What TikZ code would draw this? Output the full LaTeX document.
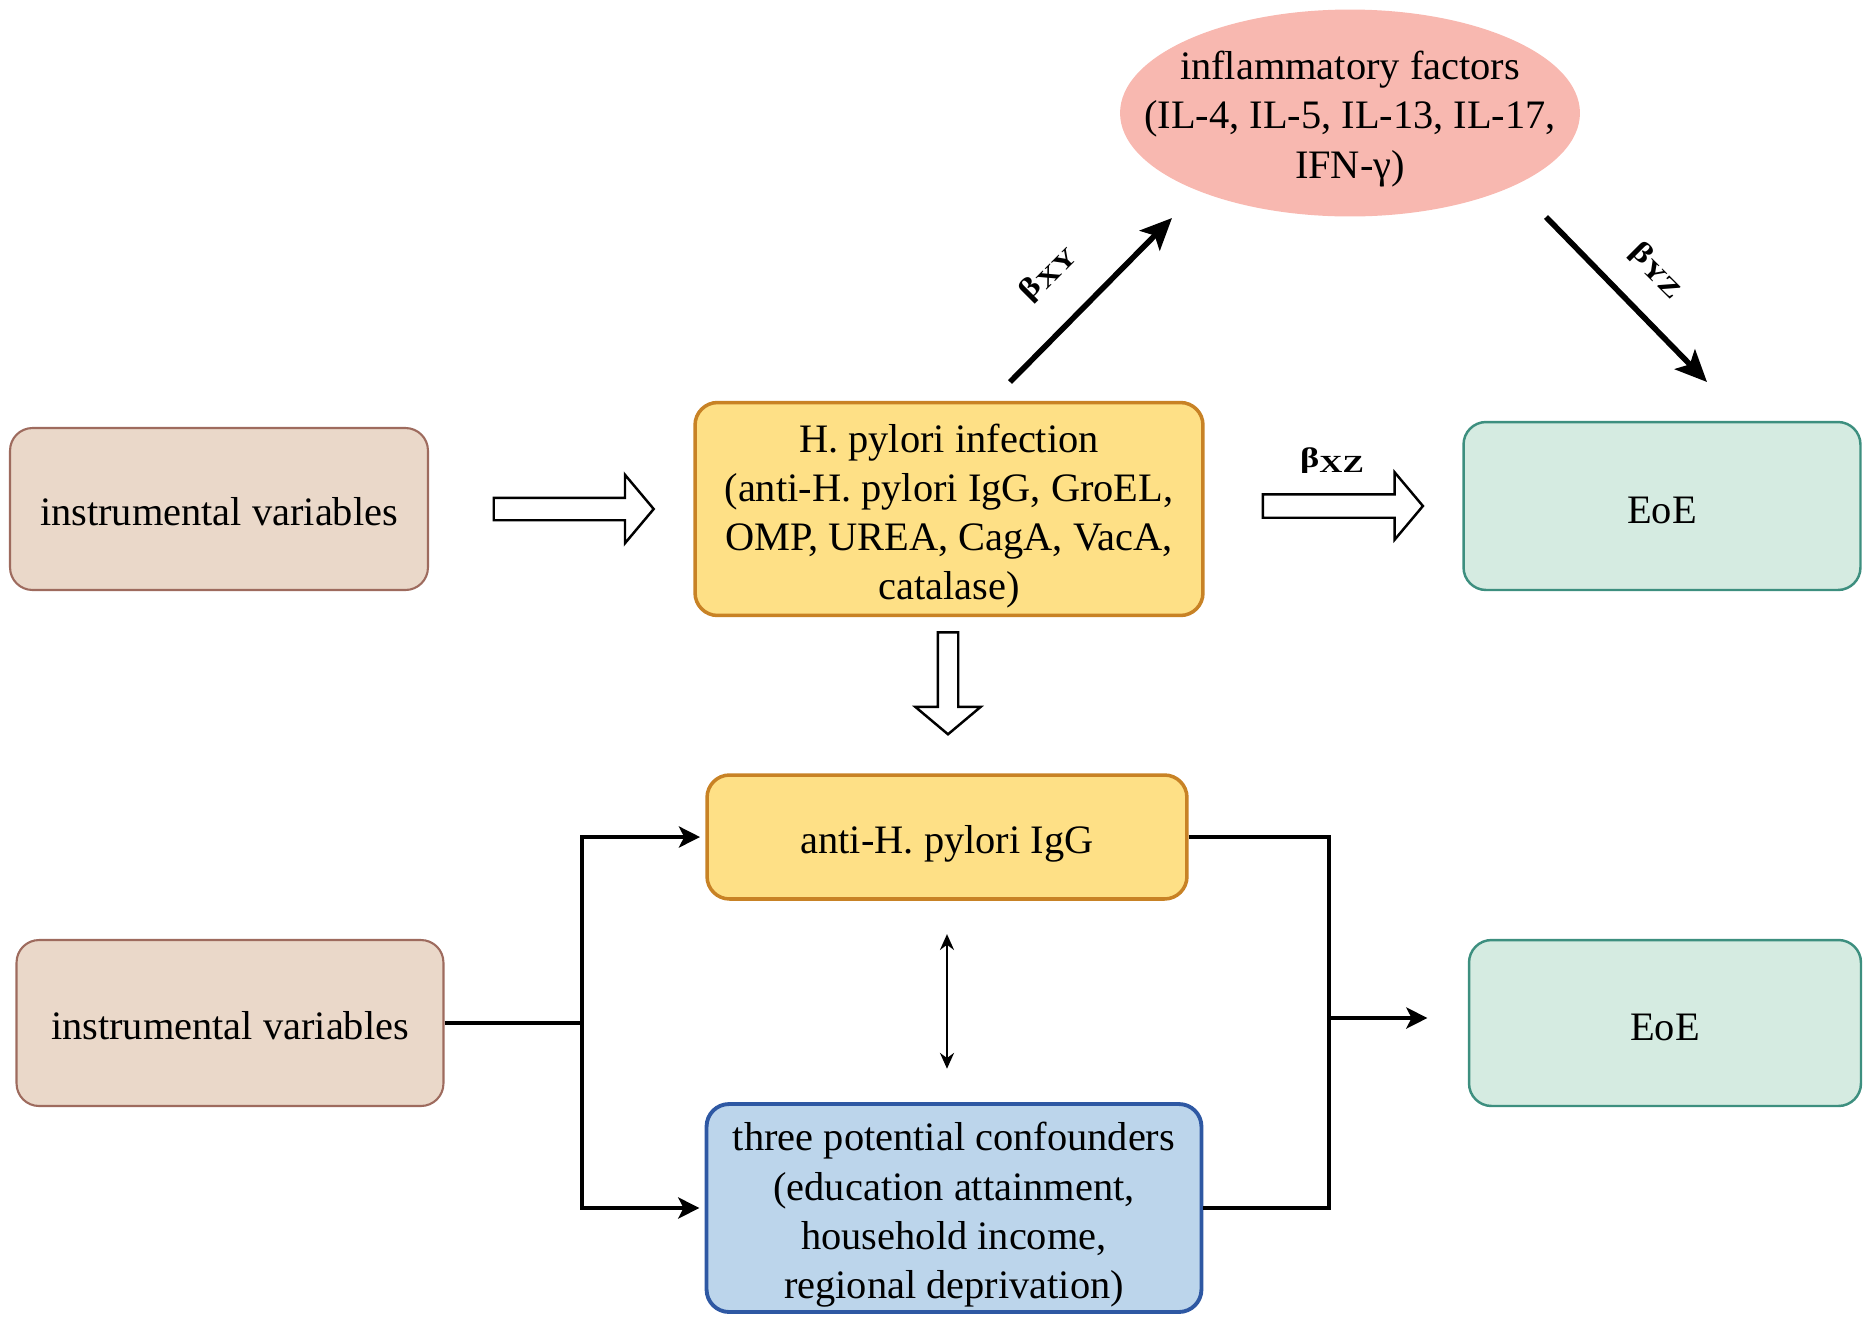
\documentclass[tikz,border=0pt]{standalone}
\usepackage{fontspec}
\setmainfont{Liberation Serif}
\usepackage{tikz}
\usetikzlibrary{arrows.meta,shapes.geometric,shapes.arrows}

\definecolor{ivfill}{HTML}{EAD8C9}
\definecolor{ivdraw}{HTML}{9E6B5E}
\definecolor{hpfill}{HTML}{FEE086}
\definecolor{hpdraw}{HTML}{C88225}
\definecolor{eoefill}{HTML}{D5EBE1}
\definecolor{eoedraw}{HTML}{3D8F7F}
\definecolor{cffill}{HTML}{BCD5EB}
\definecolor{cfdraw}{HTML}{2E58A3}
\definecolor{inflfill}{HTML}{F8B8B0}

\newcommand{\betalabel}[1]{\scalebox{1.3}[1]{\bfseries{\fontsize{16}{18}\selectfont β}\raisebox{-2.5pt}{\fontsize{14}{16}\selectfont #1}}}
\newcommand{\lift}[1]{\rule{0pt}{#1}}

\begin{document}
\begin{tikzpicture}[x=0.02cm,y=-0.02cm,
    font=\fontsize{23}{28}\selectfont,
    box/.style={rectangle,rounded corners=0.45cm,align=center,inner sep=0pt},
    ivbox/.style={box,fill=ivfill,draw=ivdraw,line width=1.2pt},
    hpbox/.style={box,fill=hpfill,draw=hpdraw,line width=2pt},
    eoebox/.style={box,fill=eoefill,draw=eoedraw,line width=1.4pt},
    cfbox/.style={box,fill=cffill,draw=cfdraw,line width=2.2pt},
    hollow/.style={single arrow,draw,fill=white,line width=1.4pt,inner xsep=0pt,
      single arrow tip angle=100},
    link/.style={line width=2.3pt,-{Stealth[length=12pt,width=12pt,inset=3pt]}},
    path/.style={line width=3.2pt,-{Stealth[length=18pt,width=16pt,inset=4pt]}},
    beta/.style={inner sep=1pt}]

    % top row
    \useasboundingbox (0,0) rectangle (1873,1326);
    \node[ivbox,minimum width=8.36cm,minimum height=3.24cm] (iv1) at (219,509) {\lift{18.5pt}instrumental variables};
    \node[hpbox,minimum width=10.16cm,minimum height=4.26cm] (hp) at (949,509) {\lift{24pt}H. pylori infection\\(anti-H. pylori IgG, GroEL,\\OMP, UREA, CagA, VacA,\\catalase)};
    \node[eoebox,minimum width=7.94cm,minimum height=3.36cm] (eoe1) at (1662,506) {\lift{20.5pt}EoE};
    \node[ellipse,fill=inflfill,minimum width=9.2cm,minimum height=4.14cm,align=center,
      inner xsep=-0.9cm,inner ysep=-0.05cm] (infl) at (1350,113) {\lift{23pt}inflammatory factors\\(IL-4, IL-5, IL-13, IL-17,\\IFN-γ)};

    \node[hollow,minimum height=3.2cm,inner ysep=0.2cm,single arrow head extend=0.46cm] (arrA) at (569,509) {};
    \node[hollow,minimum height=3.2cm,inner ysep=0.21cm,single arrow head extend=0.44cm] (arrB) at (1338,506) {};
    \node[hollow,rotate=-90,minimum height=2.04cm,inner ysep=0.18cm,single arrow head extend=0.45cm] (arrC) at (948,679) {};
    \node[beta] (bxz) at (1332,461) {\betalabel{XZ}};

    \coordinate (xy0) at (1010,382);
    \coordinate (xy1) at (1172,218);
    \coordinate (yz0) at (1546,217);
    \coordinate (yz1) at (1707,382);
    \draw[path] (xy0) -- (xy1);
    \draw[path] (yz0) -- (yz1);
    \node[beta,rotate=45] (bxy) at (1048,273) {\betalabel{XY}};
    \node[beta,rotate=-45] (byz) at (1657,270) {\betalabel{YZ}};

    % bottom row
    \node[hpbox,minimum width=9.6cm,minimum height=2.48cm] (igg) at (947,837) {\lift{24pt}anti-H. pylori IgG};
    \node[cfbox,minimum width=9.9cm,minimum height=4.16cm] (conf) at (954,1208) {\lift{24pt}three potential confounders\\(education attainment,\\household income,\\regional deprivation)};
    \node[ivbox,minimum width=8.54cm,minimum height=3.32cm] (iv2) at (230,1023) {\lift{18.5pt}instrumental variables};
    \node[eoebox,minimum width=7.84cm,minimum height=3.32cm] (eoe2) at (1665,1023) {\lift{20.5pt}EoE};

    \coordinate (lj) at (582,1023);
    \coordinate (rj) at (1329,1018);
    \draw[line width=2.3pt] (iv2.east) -- (lj);
    \draw[link,shorten >=3pt] (lj) |- (igg.west);
    \draw[link,shorten >=3pt] (lj) |- (conf.west);
    \draw[line width=2.3pt] (igg.east) -| (rj) |- (conf.east);
    \draw[link,shorten >=23pt] (rj) -- (rj -| eoe2.west);
    \draw[line width=1.2pt,{Stealth[length=9pt,width=8pt]}-{Stealth[length=9pt,width=8pt]},
      shorten <=19pt,shorten >=19pt] (igg.south) -- (igg.south |- conf.north);
\end{tikzpicture}
\end{document}
